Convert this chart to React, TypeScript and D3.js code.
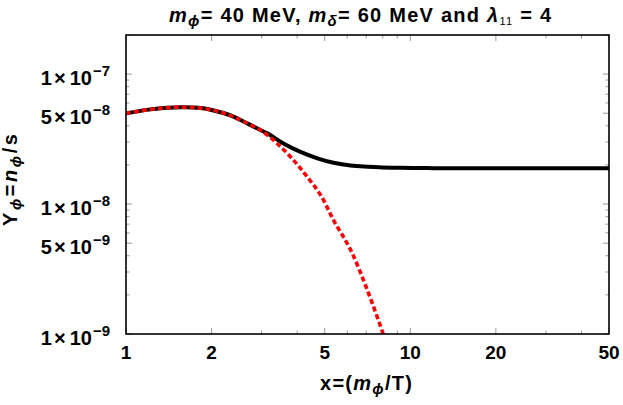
import React, { useEffect, useRef } from 'react';
import * as d3 from 'd3';

// black: full solution, red: equilibrium curve
const blackX = [1, 1.2, 1.4, 1.6, 1.8, 2.0, 2.2, 2.4, 2.6, 2.8, 3.14, 3.58, 4.11, 4.71, 5.37, 6.17, 7.06, 9.25, 12, 20, 30, 50];
const blackY = [4.99e-8, 5.33e-8, 5.52e-8, 5.57e-8, 5.5e-8, 5.3e-8, 5.02e-8, 4.68e-8, 4.3e-8, 3.96e-8, 3.5e-8, 2.93e-8, 2.52e-8, 2.25e-8, 2.08e-8, 1.98e-8, 1.94e-8, 1.9e-8, 1.89e-8, 1.89e-8, 1.89e-8, 1.89e-8];

const redX = [1, 1.2, 1.4, 1.6, 1.8, 2.0, 2.2, 2.4, 2.6, 2.97, 3.4, 3.88, 4.34, 4.84, 5.37, 6.17, 7.06, 7.98, 8.3];
const redY = [4.99e-8, 5.33e-8, 5.52e-8, 5.57e-8, 5.5e-8, 5.3e-8, 5.02e-8, 4.68e-8, 4.3e-8, 3.71e-8, 2.93e-8, 2.18e-8, 1.62e-8, 1.17e-8, 7.53e-9, 4.43e-9, 2.18e-9, 1.04e-9, 8.0e-10];

const xTickLabels = [1, 2, 5, 10, 20, 50];
const xMinorTicks = [3, 4, 6, 7, 8, 9, 30, 40];
const yMajorTicks = [1e-9, 5e-9, 1e-8, 5e-8, 1e-7];
const yMinorTicks = [2e-9, 3e-9, 4e-9, 6e-9, 7e-9, 8e-9, 9e-9, 2e-8, 3e-8, 4e-8, 6e-8, 7e-8, 8e-8, 9e-8, 2e-7];

const App = () => {
    const ref = useRef<SVGSVGElement>(null);

    const graph = () => {
        const svg = d3.select(ref.current);
        svg.selectAll('*').remove();

        const width = 623,
            height = 405,
            margin = { top: 35, right: 14, bottom: 71, left: 126 };
        const font = '"Liberation Sans", Arial, sans-serif';

        const x = d3.scaleLog().domain([1, 50]).range([margin.left, width - margin.right]);
        const y = d3.scaleLog().domain([1e-9, 2e-7]).range([height - margin.bottom, margin.top]);

        const x0 = margin.left, x1 = width - margin.right;
        const y0 = height - margin.bottom, y1 = margin.top;

        svg.append('defs').append('clipPath').attr('id', 'plotClip')
            .append('rect')
            .attr('x', x0).attr('y', y1)
            .attr('width', x1 - x0)
            .attr('height', y0 - y1);

        // ticks on all four sides, pointing inward
        const ticks = svg.append('g').attr('stroke', '#999').attr('stroke-width', 1);
        const xt = [...xTickLabels.map(v => ({ v, len: 6 })), ...xMinorTicks.map(v => ({ v, len: 3.5 }))];
        xt.forEach(t => {
            const px = x(t.v);
            ticks.append('line').attr('x1', px).attr('x2', px).attr('y1', y0).attr('y2', y0 - t.len);
            ticks.append('line').attr('x1', px).attr('x2', px).attr('y1', y1).attr('y2', y1 + t.len);
        });
        const yt = [...yMajorTicks.map(v => ({ v, len: 6 })), ...yMinorTicks.map(v => ({ v, len: 3.5 }))];
        yt.forEach(t => {
            const py = y(t.v);
            ticks.append('line').attr('y1', py).attr('y2', py).attr('x1', x0).attr('x2', x0 + t.len);
            ticks.append('line').attr('y1', py).attr('y2', py).attr('x1', x1).attr('x2', x1 - t.len);
        });

        const line = d3.line().curve(d3.curveCatmullRom.alpha(0.5));
        const plot = svg.append('g').attr('clip-path', 'url(#plotClip)');

        plot.append('path')
            .attr('d', line(blackX.map((v, i) => [x(v), y(blackY[i])] as [number, number])))
            .attr('fill', 'none')
            .attr('stroke', '#000')
            .attr('stroke-width', 4);

        plot.append('path')
            .attr('d', line(redX.map((v, i) => [x(v), y(redY[i])] as [number, number])))
            .attr('fill', 'none')
            .attr('stroke', '#ff0000')
            .attr('stroke-width', 3.6)
            .attr('stroke-dasharray', '5,3');

        // frame
        svg.append('rect')
            .attr('x', x0).attr('y', y1)
            .attr('width', x1 - x0).attr('height', y0 - y1)
            .attr('fill', 'none').attr('stroke', '#000').attr('stroke-width', 1.6);

        // x tick labels
        svg.append('g').selectAll('text')
            .data(xTickLabels)
            .enter()
            .append('text')
            .attr('x', d => x(d))
            .attr('y', y0 + 25)
            .attr('text-anchor', 'middle')
            .style('font-family', font).style('font-weight', '700').style('font-size', '19px')
            .text(d => String(d));

        // y tick labels: m×10^e
        yMajorTicks.forEach(v => {
            const e = Math.floor(Math.log10(v) + 1e-9);
            const m = Math.round(v / Math.pow(10, e));
            const t = svg.append('text')
                .attr('x', x0 - 16)
                .attr('y', y(v) + 11)
                .attr('text-anchor', 'end')
                .style('font-family', font).style('font-weight', '700').style('font-size', '20px');
            t.append('tspan').text(`${m}`);
            t.append('tspan').attr('dx', 2).text('\u00d7');
            t.append('tspan').attr('dx', 4).text('10');
            t.append('tspan').attr('dx', 1).attr('dy', -9).style('font-size', '15px').text(`\u2212${-e}`);
        });

        // title
        const title = svg.append('text')
            .attr('x', 360)
            .attr('y', 22)
            .attr('text-anchor', 'middle')
            .attr('textLength', 382)
            .attr('lengthAdjust', 'spacing')
            .style('font-family', font).style('font-weight', '700').style('font-size', '20px');
        title.append('tspan').style('font-style', 'italic').text('m');
        title.append('tspan').attr('dy', 4).style('font-style', 'italic').style('font-size', '15px').text('\u03d5');
        title.append('tspan').attr('dy', -4).text('= 40 MeV, ');
        title.append('tspan').style('font-style', 'italic').text('m');
        title.append('tspan').attr('dy', 4).style('font-style', 'italic').style('font-size', '15px').text('\u03b4');
        title.append('tspan').attr('dy', -4).text('= 60 MeV and ');
        title.append('tspan').style('font-style', 'italic').text('\u03bb');
        title.append('tspan').attr('dy', 3).style('font-size', '11px').style('font-weight', '400').text('11');
        title.append('tspan').attr('dy', -3).text(' = 4');

        // x label
        const xl = svg.append('text')
            .attr('x', 366)
            .attr('y', 390)
            .attr('text-anchor', 'middle')
            .attr('textLength', 92)
            .attr('lengthAdjust', 'spacing')
            .style('font-family', font).style('font-weight', '700').style('font-size', '20px');
        xl.append('tspan').text('x=(');
        xl.append('tspan').style('font-style', 'italic').text('m');
        xl.append('tspan').attr('dy', 4).style('font-style', 'italic').style('font-size', '15px').text('\u03d5');
        xl.append('tspan').attr('dy', -4).text('/T)');

        // y label
        const yl = svg.append('text')
            .attr('transform', `translate(17, 180) rotate(-90)`)
            .attr('text-anchor', 'middle')
            .attr('textLength', 92)
            .attr('lengthAdjust', 'spacing')
            .style('font-family', font).style('font-weight', '700').style('font-size', '20px');
        yl.append('tspan').text('Y');
        yl.append('tspan').attr('dy', 4).style('font-style', 'italic').style('font-size', '15px').text('\u03d5');
        yl.append('tspan').attr('dy', -4).text('=');
        yl.append('tspan').style('font-style', 'italic').text('n');
        yl.append('tspan').attr('dy', 4).style('font-style', 'italic').style('font-size', '15px').text('\u03d5');
        yl.append('tspan').attr('dy', -4).text('/s');
    };

    useEffect(() => graph());

    return (
        <>
            <style>{'body{margin:0}'}</style>
            <svg ref={ref} width="623" height="405"></svg>
        </>
    );
};

export default App;
